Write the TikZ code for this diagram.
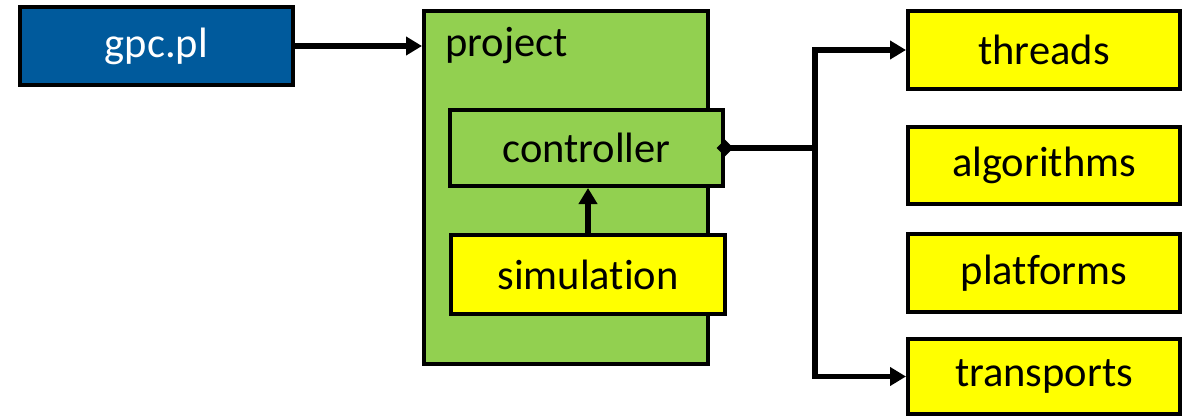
\documentclass[tikz,border=0pt]{standalone}
\usepackage{fontspec}
\setmainfont{Carlito}[Ligatures=CommonOff]
\usetikzlibrary{arrows.meta,shapes.geometric}
\definecolor{gpcblue}{RGB}{0,90,156}
\definecolor{projgreen}{RGB}{146,208,80}
\definecolor{modyellow}{RGB}{255,255,0}
\tikzset{
  box/.style={draw=black, line width=4pt, rectangle, inner sep=0pt,
    font=\fontsize{42.5}{51}\selectfont},
  wire/.style={draw=black, line width=5.5pt},
  link/.style={wire, -{Triangle[length=16pt,width=18pt]}},
  modbox/.style={box, fill=modyellow, minimum width=272pt}
}
\begin{document}
\begin{tikzpicture}[x=1pt, y=-1pt]
  \useasboundingbox (0,0) rectangle (1191,417);

  % main script and project container
  \node[box, fill=gpcblue, text=white, minimum width=273pt, minimum height=78pt]
    (gpc) at (156.5,46) {gpc.pl};
  \node[box, fill=projgreen, minimum width=284pt, minimum height=353pt]
    (project) at (566,187.5) {};
  \node[anchor=base west, inner sep=0pt, font=\fontsize{42.5}{51}\selectfont]
    (projlabel) at (445,57) {project};

  % inner components
  \node[box, fill=projgreen, minimum width=273pt, minimum height=76pt]
    (controller) at (586.5,148) {controller};
  \node[box, fill=modyellow, minimum width=274pt, minimum height=79pt]
    (simulation) at (588,274.5) {simulation};

  % modules on the right
  \node[modbox, minimum height=78pt] (threads) at (1044,50) {threads};
  \node[modbox, minimum height=77pt] (algorithms) at (1044,165.5) {algorithms};
  \node[modbox, minimum height=78pt] (platforms) at (1044,273) {platforms};
  \node[modbox, minimum height=75pt] (transports) at (1044,376.5) {transports};

  % connectors
  \draw[link] (gpc.east) -- (gpc.east -| project.west);
  \draw[link] (simulation.north) -- (simulation.north |- controller.south);

  \coordinate (bus) at (815,148);
  \draw[wire] (controller.east) -- (bus);
  \draw[link] (bus) |- (threads.west);
  \draw[link] (bus) |- (transports.west);
  \node[diamond, fill=black, inner sep=0pt, minimum width=17pt, minimum height=17pt]
    (anchorpt) at (controller.east) {};
\end{tikzpicture}
\end{document}
